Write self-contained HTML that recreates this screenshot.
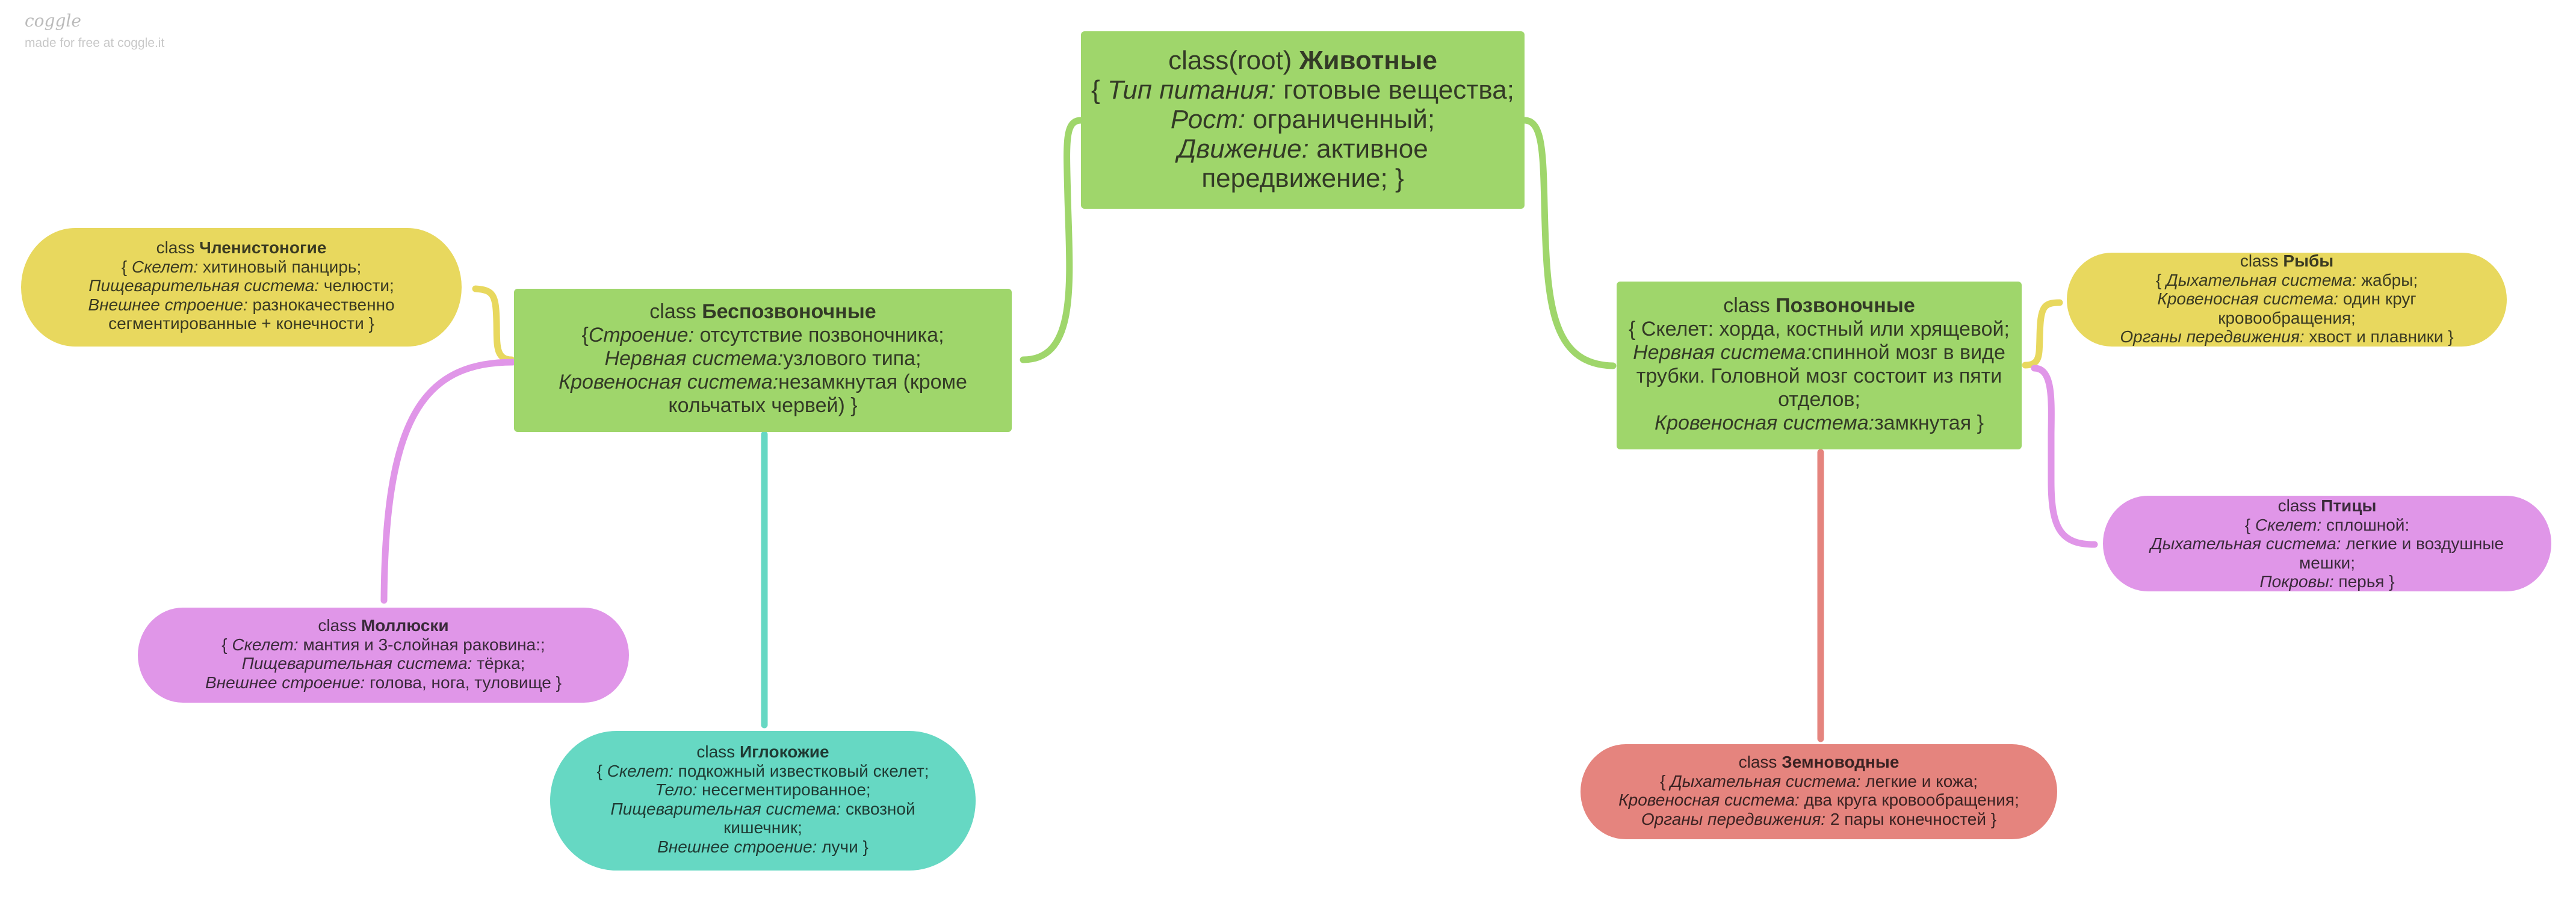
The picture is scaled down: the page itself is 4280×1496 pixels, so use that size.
<!DOCTYPE html>
<html><head><meta charset="utf-8">
<style>
html,body{margin:0;padding:0;background:#fff;}
body{width:4280px;height:1496px;position:relative;overflow:hidden;font-family:"Liberation Sans","DejaVu Sans",sans-serif;}
.n{position:absolute;box-sizing:border-box;}
.t{position:absolute;left:0;right:0;text-align:center;white-space:nowrap;}
.rect{border-radius:6px;}
b{font-weight:bold;}
</style></head><body>
<svg width="4280" height="1496" style="position:absolute;left:0;top:0" fill="none" stroke-linecap="round">
<path d="M1796,200 C1768,200 1772,240 1774,330 C1778,470 1790,598 1700,598" stroke="#9fd66b" stroke-width="11"/>
<path d="M2533,200 C2562,200 2564,250 2566,340 C2570,500 2575,606 2680,608" stroke="#9fd66b" stroke-width="11"/>
<path d="M850,598 C822,598 826,570 825,535 C824,490 820,482 790,480" stroke="#e8d85e" stroke-width="11"/>
<path d="M852,602 C700,602 640,700 638,998" stroke="#e096e8" stroke-width="11"/>
<path d="M1270,722 L1270,1205" stroke="#66d8c3" stroke-width="11"/>
<path d="M3025,752 L3025,1228" stroke="#e5847e" stroke-width="11"/>
<path d="M3365,607 C3390,607 3388,590 3389,560 C3390,510 3395,503 3422,503" stroke="#e8d85e" stroke-width="11"/>
<path d="M3380,612 C3410,612 3409,660 3408,720 L3408,800 C3408,880 3425,905 3480,905" stroke="#e096e8" stroke-width="11"/>
</svg>

<div style="position:absolute;left:41px;top:18px;font-family:'DejaVu Serif',serif;font-style:italic;font-size:28px;color:#bbb;">coggle</div>
<div style="position:absolute;left:41px;top:60px;font-size:21px;color:#c8c8c8;">made for free at coggle.it</div>

<div class="n rect" style="left:1796px;top:52px;width:737px;height:295px;background:#9fd66b;color:#333a26;font-size:44px;">
 <div class="t" style="top:24px;line-height:49px;">class(root) <b>Животные</b><br>{ <i>Тип питания:</i> готовые вещества;<br><i>Рост:</i> ограниченный;<br><i>Движение:</i> активное<br>передвижение; }</div>
</div>

<div class="n rect" style="left:854px;top:480px;width:827px;height:238px;background:#9fd66b;color:#333a26;font-size:34px;">
 <div class="t" style="top:19px;line-height:39px;">class <b>Беспозвоночные</b><br>{<i>Строение:</i> отсутствие позвоночника;<br><i>Нервная система:</i>узлового типа;<br><i>Кровеносная система:</i>незамкнутая (кроме<br>кольчатых червей) }</div>
</div>

<div class="n rect" style="left:2686px;top:468px;width:673px;height:279px;background:#9fd66b;color:#333a26;font-size:34px;">
 <div class="t" style="top:21px;line-height:39px;">class <b>Позвоночные</b><br>{ Скелет: хорда, костный или хрящевой;<br><i>Нервная система:</i>спинной мозг в виде<br>трубки. Головной мозг состоит из пяти<br>отделов;<br><i>Кровеносная система:</i>замкнутая }</div>
</div>

<div class="n" style="left:35px;top:379px;width:732px;height:197px;border-radius:90px/50%;background:#e8d85e;color:#3a3a22;font-size:28px;">
 <div class="t" style="top:17px;line-height:31.6px;">class <b>Членистоногие</b><br>{ <i>Скелет:</i> хитиновый панцирь;<br><i>Пищеварительная система:</i> челюсти;<br><i>Внешнее строение:</i> разнокачественно<br>сегментированные + конечности }</div>
</div>

<div class="n" style="left:229px;top:1010px;width:816px;height:158px;border-radius:75px/50%;background:#e096e8;color:#3a2a3a;font-size:28px;">
 <div class="t" style="top:14px;line-height:31.6px;">class <b>Моллюски</b><br>{ <i>Скелет:</i> мантия и 3-слойная раковина:;<br><i>Пищеварительная система:</i> тёрка;<br><i>Внешнее строение:</i> голова, нога, туловище }</div>
</div>

<div class="n" style="left:914px;top:1215px;width:707px;height:232px;border-radius:110px/50%;background:#66d8c3;color:#1f3a33;font-size:28px;">
 <div class="t" style="top:19px;line-height:31.6px;">class <b>Иглокожие</b><br>{ <i>Скелет:</i> подкожный известковый скелет;<br><i>Тело:</i> несегментированное;<br><i>Пищеварительная система:</i> сквозной<br>кишечник;<br><i>Внешнее строение:</i> лучи }</div>
</div>

<div class="n" style="left:2626px;top:1237px;width:792px;height:158px;border-radius:75px/50%;background:#e5847e;color:#3a2222;font-size:28px;">
 <div class="t" style="top:14px;line-height:31.6px;">class <b>Земноводные</b><br>{ <i>Дыхательная система:</i> легкие и кожа;<br><i>Кровеносная система:</i> два круга кровообращения;<br><i>Органы передвижения:</i> 2 пары конечностей }</div>
</div>

<div class="n" style="left:3434px;top:420px;width:731px;height:156px;border-radius:75px/50%;background:#e8d85e;color:#3a3a22;font-size:28px;">
 <div class="t" style="top:-2px;line-height:31.6px;">class <b>Рыбы</b><br>{ <i>Дыхательная система:</i> жабры;<br><i>Кровеносная система:</i> один круг<br>кровообращения;<br><i>Органы передвижения:</i> хвост и плавники }</div>
</div>

<div class="n" style="left:3494px;top:824px;width:745px;height:159px;border-radius:75px/50%;background:#e096e8;color:#3a2a3a;font-size:28px;">
 <div class="t" style="top:1px;line-height:31.6px;">class <b>Птицы</b><br>{ <i>Скелет:</i> сплошной:<br><i>Дыхательная система:</i> легкие и воздушные<br>мешки;<br><i>Покровы:</i> перья }</div>
</div>
</body></html>
